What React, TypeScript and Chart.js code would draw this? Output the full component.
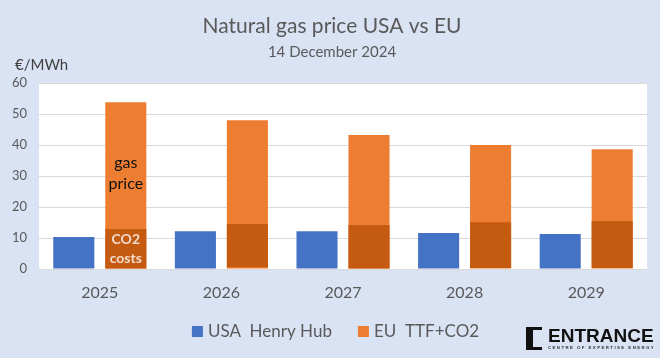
import React, { useEffect, useRef } from 'react';
import { Chart, registerables } from 'chart.js';

Chart.register(...registerables);

// ---- data ----
const categories = ['2025', '2026', '2027', '2028', '2029'];
const usaHenryHub = [10.3, 12.2, 12.2, 11.6, 11.3];
const euTtfCo2 = [53.8, 48.0, 43.2, 40.0, 38.6];
const co2Low = [0, 0.6, 0, 0.3, 0.3];
const co2High = [12.9, 14.5, 14.2, 15.1, 15.5];
const yTicks = [0, 10, 20, 30, 40, 50, 60];
const seriesNames = ['USA  Henry Hub', 'CO2 costs', 'EU  TTF+CO2'];
const legendSeries = [0, 2];
const titleText = 'Natural gas price USA vs EU';
const subtitleText = '14 December 2024';
const unitText = '€/MWh';
const gasLabelLines = ['gas', 'price'];
const co2LabelLines = ['CO2', 'costs'];
const gasLabelValue = 30.8;

// ---- styles ----
const BG = '#dae3f3';
const BLUE = '#4472c4';
const ORANGE = '#ed7d31';
const DARK_ORANGE = '#c55a11';
const TEXT = '#595959';
const FONT = 'Lato, "Open Sans", sans-serif';

const decorPlugin = {
  id: 'decor',
  beforeDraw(chart: any) {
    const { ctx, chartArea: a, width, height } = chart;
    ctx.save();
    ctx.fillStyle = BG;
    ctx.fillRect(0, 0, width, height);
    ctx.fillStyle = '#ffffff';
    ctx.fillRect(a.left, a.top, a.right - a.left, a.bottom - a.top);
    ctx.restore();
  },
  afterDatasetsDraw(chart: any) {
    const { ctx } = chart;
    const y = chart.scales.y;
    ctx.save();
    ctx.textAlign = 'center';
    ctx.textBaseline = 'middle';
    const euBar = chart.getDatasetMeta(2).data[0];
    const gy = y.getPixelForValue(gasLabelValue);
    ctx.font = `16px ${FONT}`;
    ctx.fillStyle = '#111111';
    ctx.fillText(gasLabelLines[0], euBar.x, gy - 10.5);
    ctx.fillText(gasLabelLines[1], euBar.x, gy + 10.5);
    const co2Bar = chart.getDatasetMeta(1).data[0];
    const cy = y.getPixelForValue((co2Low[0] + co2High[0]) / 2);
    ctx.font = `bold 14px ${FONT}`;
    ctx.fillStyle = '#f1dccd';
    ctx.fillText(co2LabelLines[0], co2Bar.x, cy - 9.5);
    ctx.fillText(co2LabelLines[1], co2Bar.x, cy + 9.5);
    ctx.restore();
  },
  afterDraw(chart: any) {
    const { ctx } = chart;
    ctx.save();
    // title & subtitle
    ctx.textAlign = 'center';
    ctx.textBaseline = 'alphabetic';
    ctx.fillStyle = TEXT;
    ctx.font = `21px ${FONT}`;
    ctx.fillText(titleText, 332, 33);
    ctx.font = `15px ${FONT}`;
    ctx.fillText(subtitleText, 332, 57);
    // unit label
    ctx.textAlign = 'left';
    ctx.fillStyle = '#404040';
    ctx.font = `15px ${FONT}`;
    ctx.fillText(unitText, 15, 70);

    // legend (from datasets)
    ctx.font = `17px ${FONT}`;
    const box = 11, gap = 5, itemGap = 26;
    const items = legendSeries.map((i) => {
      const ds = chart.data.datasets[i];
      return { text: ds.label as string, color: ds.backgroundColor as string, w: box + gap + ctx.measureText(ds.label).width };
    });
    const total = items.reduce((s, it) => s + it.w, 0) + itemGap * (items.length - 1);
    let lx = 335.5 - total / 2;
    items.forEach((it) => {
      ctx.fillStyle = it.color;
      ctx.fillRect(lx, 326, box, box);
      ctx.fillStyle = TEXT;
      ctx.fillText(it.text, lx + box + gap, 337);
      lx += it.w + itemGap;
    });

    // logo
    ctx.fillStyle = '#111111';
    ctx.beginPath();
    ctx.moveTo(526, 327);
    ctx.lineTo(542, 327);
    ctx.lineTo(542, 330);
    ctx.lineTo(533, 330);
    ctx.lineTo(533, 347);
    ctx.lineTo(542, 347);
    ctx.lineTo(542, 350);
    ctx.lineTo(526, 350);
    ctx.closePath();
    ctx.fill();
    ctx.font = 'bold 19px "Liberation Sans", Arial, sans-serif';
    ctx.fillText('ENTRANCE', 548, 342);
    ctx.fillStyle = '#333333';
    ctx.font = 'bold 4.3px "Liberation Sans", Arial, sans-serif';
    try { (ctx as any).letterSpacing = '1.45px'; } catch (e) {}
    ctx.fillText('CENTRE OF EXPERTISE ENERGY', 548, 349);
    ctx.restore();
  },
};

export default function App() {
  const ref = useRef<HTMLCanvasElement>(null);
  useEffect(() => {
    const canvas = ref.current;
    if (!canvas) return;
    const barOpts = { categoryPercentage: 0.855, barPercentage: 0.79, borderWidth: 0 };
    const chart = new Chart(canvas, {
      type: 'bar',
      data: {
        labels: categories,
        datasets: [
          { label: seriesNames[0], data: usaHenryHub, backgroundColor: BLUE, stack: 'usa', ...barOpts },
          {
            label: seriesNames[1],
            data: co2Low.map((l, i) => [l, co2High[i]]) as any,
            backgroundColor: DARK_ORANGE,
            stack: 'eu',
            ...barOpts,
          },
          { label: seriesNames[2], data: euTtfCo2, backgroundColor: ORANGE, stack: 'eu', ...barOpts },
        ],
      },
      options: {
        responsive: false,
        animation: false,
        layout: { padding: { left: 0, right: 13, top: 83, bottom: 0 } },
        plugins: {
          title: { display: false },
          tooltip: { enabled: false },
          legend: { display: false },
        },
        scales: {
          x: {
            grid: { display: false, drawTicks: false },
            border: { display: false },
            ticks: { color: TEXT, font: { family: FONT, size: 16 }, padding: 14 },
            afterFit: (s: any) => { s.height = 89; },
          },
          y: {
            stacked: false,
            min: 0,
            max: 60,
            grid: { color: '#d9d9d9', drawTicks: false },
            border: { display: false },
            ticks: { color: TEXT, font: { family: FONT, size: 13 }, padding: 12 },
            afterBuildTicks: (s: any) => { s.ticks = yTicks.map((v) => ({ value: v })); },
            afterFit: (s: any) => { s.width = 39; },
          },
        },
      },
      plugins: [decorPlugin],
    } as any);
    return () => chart.destroy();
  }, []);
  return (
    <div style={{ position: 'absolute', left: 0, top: 0, width: 660, height: 358, background: BG }}>
      <canvas ref={ref} width={660} height={358} style={{ display: 'block' }} />
    </div>
  );
}
